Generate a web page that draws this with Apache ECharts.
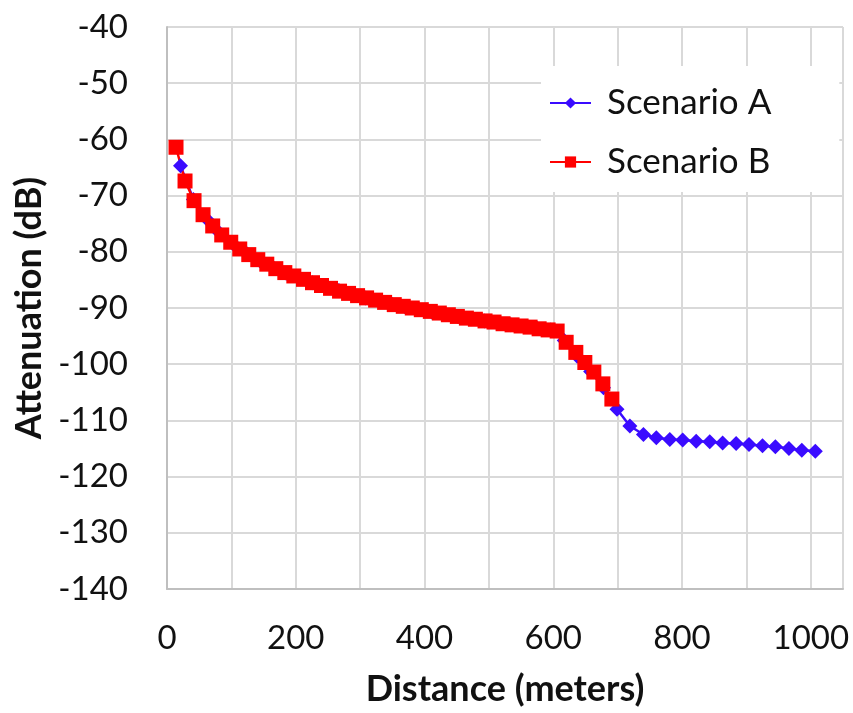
<!DOCTYPE html>
<html>
<head>
<meta charset="utf-8">
<script src="https://cdn.jsdelivr.net/npm/echarts@6/dist/echarts.min.js"></script>
<style>
html,body{margin:0;padding:0;background:#fff;}
#chart{width:853px;height:713px;}
</style>
</head>
<body>
<div id="chart"></div>
<script>
var seriesNames = ['Scenario A', 'Scenario B'];
var xTitle = 'Distance (meters)';
var yTitle = 'Attenuation (dB)';

var distA = [21, 41, 62, 82, 103, 123, 144, 164, 185, 206, 226, 247, 267, 288, 308, 329, 349, 370, 390, 411, 432, 452, 473, 493, 514, 534, 555, 575, 596, 617, 637, 658, 678, 699, 719, 740, 760, 781, 801, 822, 843, 863, 884, 904, 925, 945, 966, 986, 1007];
var attA = [-64.7, -70.7, -74.2, -76.7, -78.6, -80.2, -81.6, -82.7, -83.8, -84.7, -85.5, -86.3, -86.9, -87.6, -88.2, -88.7, -89.3, -89.8, -90.2, -90.7, -91.1, -91.5, -91.9, -92.3, -92.6, -93.0, -93.3, -93.6, -93.9, -95.8, -98.6, -101.3, -104.2, -108.0, -111.0, -112.5, -113.1, -113.4, -113.5, -113.7, -113.8, -114.0, -114.1, -114.3, -114.5, -114.7, -115.0, -115.3, -115.5];

var distB = [14, 28, 42, 56, 71, 85, 99, 113, 127, 141, 155, 169, 183, 197, 212, 226, 240, 254, 268, 282, 296, 310, 324, 338, 353, 367, 381, 395, 409, 423, 437, 451, 465, 479, 494, 508, 522, 536, 550, 564, 578, 592, 606, 620, 635, 649, 663, 677, 691];
var attB = [-61.4, -67.4, -70.9, -73.4, -75.4, -77.0, -78.3, -79.5, -80.5, -81.4, -82.2, -83.0, -83.7, -84.3, -84.9, -85.5, -86.0, -86.5, -87.0, -87.4, -87.8, -88.2, -88.6, -89.0, -89.4, -89.7, -90.0, -90.3, -90.6, -90.9, -91.2, -91.5, -91.8, -92.0, -92.3, -92.5, -92.8, -93.0, -93.2, -93.4, -93.7, -93.9, -94.1, -96.1, -97.9, -99.7, -101.4, -103.5, -106.2];

var xMin = 0, xMax = 1050, xStep = 100, xLabelStep = 200;
var yMin = -140, yMax = -40, yStep = 10;

function pairs(xs, ys) {
  return xs.map(function (x, i) { return [x, ys[i]]; });
}

var FONT = 'Lato';
var chart = echarts.init(document.getElementById('chart'), null, {renderer: 'canvas'});
chart.setOption({
  animation: false,
  backgroundColor: '#ffffff',
  textStyle: {fontFamily: FONT},
  grid: {left: 167, top: 27, right: 10, bottom: 124, containLabel: false},
  legend: {
    orient: 'vertical',
    left: 541,
    top: 66,
    backgroundColor: '#ffffff',
    padding: [19, 68, 12, 8],
    itemGap: 23,
    itemWidth: 41,
    itemHeight: 14,
    textStyle: {fontFamily: FONT, fontSize: 35, lineHeight: 36, color: '#111111', padding: [0, 0, 0, 11]},
    data: seriesNames
  },
  xAxis: {
    type: 'value',
    min: xMin,
    max: xMax,
    interval: xStep,
    name: xTitle,
    nameLocation: 'middle',
    nameGap: 82,
    nameTextStyle: {fontFamily: FONT, fontSize: 36, fontWeight: 'bold', color: '#111111'},
    axisLine: {show: true, lineStyle: {color: '#bfbfbf', width: 2}},
    axisTick: {show: false},
    axisLabel: {
      margin: 33,
      fontSize: 33,
      color: '#111111',
      fontFamily: FONT,
      formatter: function (v) { return (v % xLabelStep === 0) ? String(v) : ''; }
    },
    splitLine: {show: true, lineStyle: {color: '#d9d9d9', width: 2}}
  },
  yAxis: {
    type: 'value',
    min: yMin,
    max: yMax,
    interval: yStep,
    name: yTitle,
    nameLocation: 'middle',
    nameGap: 117,
    nameTextStyle: {fontFamily: FONT, fontSize: 36, fontWeight: 'bold', color: '#111111'},
    axisLine: {show: true, lineStyle: {color: '#bfbfbf', width: 2}},
    axisTick: {show: false},
    axisLabel: {margin: 39, fontSize: 33, color: '#111111', fontFamily: FONT},
    splitLine: {show: true, lineStyle: {color: '#d9d9d9', width: 2}}
  },
  series: [
    {
      name: seriesNames[0],
      type: 'line',
      data: pairs(distA, attA),
      symbol: 'diamond',
      symbolSize: 15,
      showAllSymbol: true,
      itemStyle: {color: '#3a0bff'},
      lineStyle: {color: '#3a0bff', width: 2.5}
    },
    {
      name: seriesNames[1],
      type: 'line',
      data: pairs(distB, attB),
      symbol: 'rect',
      symbolSize: 15,
      showAllSymbol: true,
      itemStyle: {color: '#ff0000'},
      lineStyle: {color: '#ff0000', width: 2.5}
    }
  ]
});
</script>
</body>
</html>
